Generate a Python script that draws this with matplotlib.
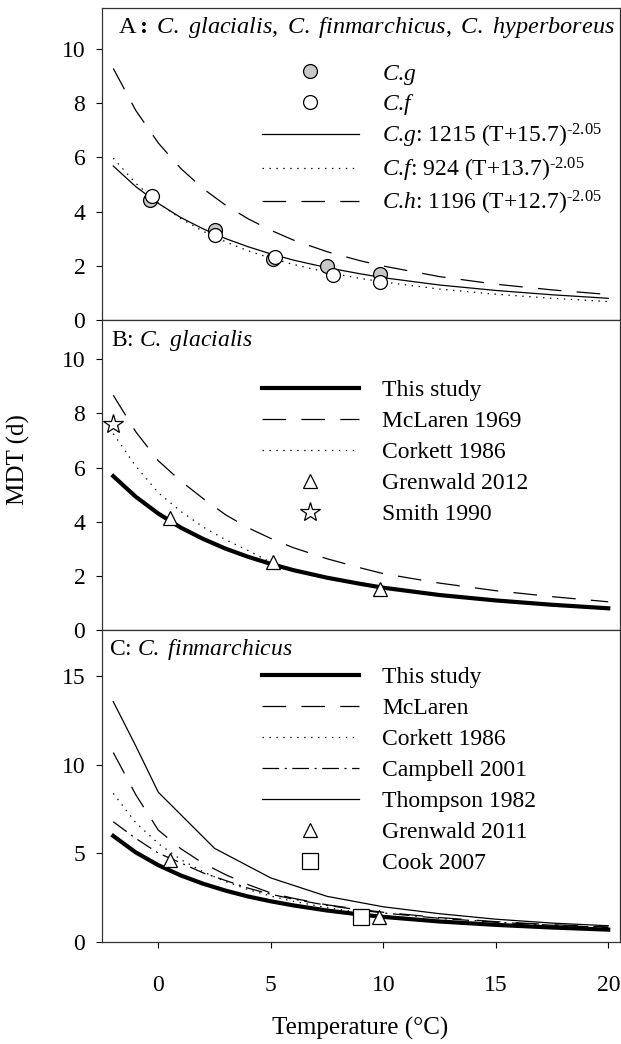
import matplotlib
matplotlib.use("Agg")
import matplotlib.pyplot as plt
from matplotlib.lines import Line2D

plt.rcParams['font.family'] = ['Liberation Serif', 'DejaVu Serif']
plt.rcParams['mathtext.fontset'] = 'custom'
plt.rcParams['mathtext.rm'] = 'Liberation Serif'
plt.rcParams['mathtext.it'] = 'Liberation Serif:italic'
plt.rcParams['mathtext.bf'] = 'Liberation Serif:bold'
plt.rcParams['lines.scale_dashes'] = False
plt.rcParams['font.size'] = 17

# temperature grid of the fitted curves
t_fit = [-2, -1, 0, 1, 2, 3, 4, 5, 6, 7.5, 9, 10, 12.5, 15, 17.5, 20]

# panel A: fitted curves
cg_fit = [5.68, 4.92, 4.30, 3.78, 3.36, 3.00, 2.70, 2.44, 2.21, 1.93, 1.70, 1.56, 1.29, 1.09, 0.93, 0.80]
cf_fit = [5.97, 5.04, 4.32, 3.74, 3.27, 2.88, 2.55, 2.28, 2.05, 1.76, 1.53, 1.40, 1.14, 0.95, 0.80, 0.68]
ch_fit = [9.28, 7.73, 6.53, 5.59, 4.84, 4.23, 3.73, 3.31, 2.95, 2.52, 2.18, 1.99, 1.60, 1.32, 1.11, 0.94]

# panel A: observations
cg_t = [-0.35, 2.5, 5.1, 7.5, 9.85]
cg_mdt = [4.42, 3.32, 2.25, 1.98, 1.68]
cf_t = [-0.3, 2.5, 5.2, 7.75, 9.85]
cf_mdt = [4.56, 3.15, 2.34, 1.66, 1.40]

# panel B: C. glacialis
mclaren_b = [8.67, 7.32, 6.25, 5.50, 4.85, 4.25, 3.77, 3.38, 3.04, 2.63, 2.29, 2.08, 1.73, 1.45, 1.23, 1.04]
corkett_b = [7.25, 6.05, 5.07, 4.38, 3.80, 3.33, 2.93, 2.50, 2.24, 1.95, 1.72, 1.58, 1.31, 1.10, 0.94, 0.81]
grenwald12_t = [0.5, 5.1, 9.85]
grenwald12_mdt = [4.15, 2.50, 1.50]
smith_t = [-2.0]
smith_mdt = [7.6]

# panel C: C. finmarchicus
mclaren_c = [10.68, 8.30, 6.30, 5.25, 4.42, 3.78, 3.22, 2.75, 2.45, 2.08, 1.82, 1.66, 1.36, 1.13, 0.96, 0.83]
corkett_c = [8.37, 6.72, 5.54, 4.64, 3.94, 3.39, 2.94, 2.58, 2.28, 1.92, 1.64, 1.48, 1.18, 0.96, 0.79, 0.67]
campbell_c = [6.77, 5.83, 5.00, 4.45, 3.88, 3.45, 3.02, 2.68, 2.40, 2.05, 1.78, 1.62, 1.32, 1.10, 0.93, 0.80]
thompson_t = [-2, -1, 0, 2.5, 5, 7.5, 10, 12.5, 15, 17.5, 20]
thompson_c = [13.55, 11.05, 8.44, 5.27, 3.60, 2.56, 1.97, 1.58, 1.27, 1.05, 0.90]
grenwald11_t = [0.5, 9.8]
grenwald11_mdt = [4.6, 1.41]
cook_t = [9.0]
cook_mdt = [1.4]

x_ticks = [0, 5, 10, 15, 20]

DASH = (0, (17, 11))
DOT = (0, (1, 4))
DASHDOT = (0, (12, 4, 1.5, 4))
THIN = 0.9
THICK = 3.0

fig = plt.figure(figsize=(6.21, 10.44), dpi=100)
left, width = 0.1643, 0.8333
axA = fig.add_axes([left, 0.6935, width, 0.2986])
axB = fig.add_axes([left, 0.3966, width, 0.2969])
axC = fig.add_axes([left, 0.0980, width, 0.2986])

for ax in (axA, axB, axC):
    ax.set_xlim(-2.5, 20.5)
    ax.set_xticks(x_ticks)
    ax.tick_params(direction='out', length=4, width=0.8, pad=8, labelsize=17)
    for s in ax.spines.values():
        s.set_linewidth(0.9)
        s.set_color('#333333')

leg_kw = dict(frameon=False, handlelength=4.1, handletextpad=1.0,
              borderpad=0, borderaxespad=0, numpoints=1, fontsize=17, loc='center left')

# ---- panel A
axA.plot(t_fit, cg_fit, color='k', lw=THIN)
axA.plot(t_fit, cf_fit, color='k', lw=THIN, linestyle=DOT)
axA.plot(t_fit, ch_fit, color='k', lw=THIN, linestyle=DASH)
axA.plot(cg_t, cg_mdt, 'o', ms=10, mfc='#c8c8c8', mec='k', mew=0.9, zorder=3)
axA.plot(cf_t, cf_mdt, 'o', ms=10, mfc='white', mec='k', mew=0.9, zorder=4)
axA.set_ylim(0, 11.5)
axA.set_yticks([0, 2, 4, 6, 8, 10])
axA.set_xticklabels([])
axA.text(0.03, 0.937, r'A$\mathbf{:}$ $\mathit{C.\ glacialis,\ C.\ finmarchicus,\ C.\ hyperboreus}$',
         transform=axA.transAxes, va='center', ha='left', fontsize=17.5)
hA = [Line2D([], [], ls='none', marker='o', ms=10, mfc='#c8c8c8', mec='k', mew=0.9),
      Line2D([], [], ls='none', marker='o', ms=10, mfc='white', mec='k', mew=0.9),
      Line2D([], [], color='k', lw=THIN),
      Line2D([], [], color='k', lw=THIN, linestyle=DOT),
      Line2D([], [], color='k', lw=THIN, linestyle=DASH)]
lA = [r'$\mathit{C}$.$\mathit{g}$', r'$\mathit{C}$.$\mathit{f}$',
      r'$\mathit{C}$.$\mathit{g}$: 1215 (T+15.7)$^{\text{-}2.05}$',
      r'$\mathit{C}$.$\mathit{f}$: 924 (T+13.7)$^{\text{-}2.05}$',
      r'$\mathit{C}$.$\mathit{h}$: 1196 (T+12.7)$^{\text{-}2.05}$']
axA.legend(hA, lA, bbox_to_anchor=(0.309, 0.578), labelspacing=0.22, **leg_kw)

# ---- panel B
axB.plot(t_fit, mclaren_b, color='k', lw=THIN, linestyle=DASH)
axB.plot(t_fit, corkett_b, color='k', lw=THIN, linestyle=DOT)
axB.plot(t_fit, cg_fit, color='k', lw=THICK)
axB.plot(grenwald12_t, grenwald12_mdt, '^', ms=10, mfc='white', mec='k', mew=0.9, zorder=4)
axB.plot(smith_t, smith_mdt, '*', ms=15, mfc='white', mec='k', mew=0.9, zorder=4, clip_on=False)
axB.set_ylim(0, 11.45)
axB.set_yticks([0, 2, 4, 6, 8, 10])
axB.set_xticklabels([])
axB.text(0.017, 0.933, r'B: $\mathit{C.\ glacialis}$', transform=axB.transAxes,
         va='center', ha='left', fontsize=17)
hB = [Line2D([], [], color='k', lw=THICK),
      Line2D([], [], color='k', lw=THIN, linestyle=DASH),
      Line2D([], [], color='k', lw=THIN, linestyle=DOT),
      Line2D([], [], ls='none', marker='^', ms=10, mfc='white', mec='k', mew=0.9),
      Line2D([], [], ls='none', marker='*', ms=15, mfc='white', mec='k', mew=0.9)]
lB = ['This study', 'McLaren 1969', 'Corkett 1986', 'Grenwald 2012', 'Smith 1990']
axB.legend(hB, lB, bbox_to_anchor=(0.309, 0.5726), labelspacing=0.40, **leg_kw)

# ---- panel C
axC.plot(thompson_t, thompson_c, color='k', lw=THIN)
axC.plot(t_fit, mclaren_c, color='k', lw=THIN, linestyle=DASH)
axC.plot(t_fit, corkett_c, color='k', lw=THIN, linestyle=DOT)
axC.plot(t_fit, campbell_c, color='k', lw=THIN, linestyle=DASHDOT)
axC.plot(t_fit, cf_fit, color='k', lw=THICK)
axC.plot(grenwald11_t, grenwald11_mdt, '^', ms=10, mfc='white', mec='k', mew=0.9, zorder=4)
axC.plot(cook_t, cook_mdt, 's', ms=11, mfc='white', mec='k', mew=0.9, zorder=4)
axC.set_ylim(0, 17.6)
axC.set_yticks([0, 5, 10, 15])
axC.tick_params(axis='x', pad=20)
axC.text(0.014, 0.936, r'C: $\mathit{C.\ finmarchicus}$', transform=axC.transAxes,
         va='center', ha='left', fontsize=17)
hC = [Line2D([], [], color='k', lw=THICK),
      Line2D([], [], color='k', lw=THIN, linestyle=DASH),
      Line2D([], [], color='k', lw=THIN, linestyle=DOT),
      Line2D([], [], color='k', lw=THIN, linestyle=DASHDOT),
      Line2D([], [], color='k', lw=THIN),
      Line2D([], [], ls='none', marker='^', ms=10, mfc='white', mec='k', mew=0.9),
      Line2D([], [], ls='none', marker='s', ms=11, mfc='white', mec='k', mew=0.9)]
lC = ['This study', 'McLaren', 'Corkett 1986', 'Campbell 2001', 'Thompson 1982',
      'Grenwald 2011', 'Cook 2007']
axC.legend(hC, lC, bbox_to_anchor=(0.309, 0.549), labelspacing=0.40, **leg_kw)

fig.text(0.029, 0.5594, 'MDT (d)', rotation=90, ha='center', va='center', fontsize=18)
fig.text(0.58, 0.0153, 'Temperature (\u00b0C)', ha='center', va='center', fontsize=18)

fig.savefig('out.png', dpi=100)
